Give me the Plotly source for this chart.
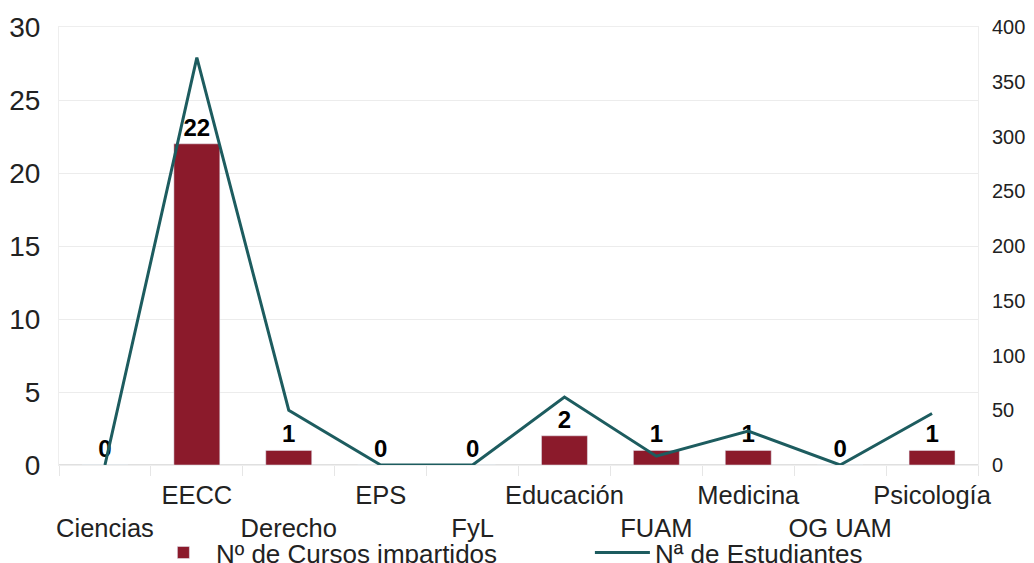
import plotly.graph_objects as go

# Datos
facultades = ["Ciencias", "EECC", "Derecho", "EPS", "FyL",
              "Educación", "FUAM", "Medicina", "OG UAM", "Psicología"]
cursos = [0, 22, 1, 0, 0, 2, 1, 1, 0, 1]
estudiantes = [0, 372, 50, 0, 0, 62, 8, 31, 0, 47]

# Etiquetas escalonadas en dos filas (como en el original)
etiquetas = [("<br>" + f) if i % 2 == 0 else (f + "<br> ") for i, f in enumerate(facultades)]

fig = go.Figure()

fig.add_trace(go.Bar(
    x=facultades,
    y=cursos,
    name="Nº de Cursos impartidos",
    marker=dict(color="#8b1a2b"),
    width=0.5,
    text=cursos,
    textposition="outside",
    textfont=dict(size=24, color="black", family="Liberation Sans"),
    texttemplate="<b>%{text}</b>",
    cliponaxis=False,
))

fig.add_trace(go.Scatter(
    x=facultades,
    y=estudiantes,
    name="Nª de Estudiantes",
    mode="lines",
    line=dict(color="#1d5c5f", width=3),
    yaxis="y2",
))

fig.update_layout(
    width=1034,
    height=563,
    margin=dict(l=51, r=64, t=19, b=106, autoexpand=False),
    paper_bgcolor="white",
    plot_bgcolor="white",
    font=dict(family="Liberation Sans", size=26, color="#222222"),
    showlegend=True,
    legend=dict(
        orientation="h",
        x=0.1, y=-0.2,
        xanchor="left", yanchor="middle",
        font=dict(size=26),
        entrywidth=369,
        itemwidth=55,
        bgcolor="rgba(0,0,0,0)",
    ),
    bargap=0.5,
    xaxis=dict(
        tickmode="array",
        tickvals=facultades,
        ticktext=etiquetas,
        tickson="boundaries",
        ticks="outside",
        ticklen=10,
        tickcolor="#e6e6e6",
        ticklabelstandoff=7,
        showgrid=False,
        showline=True,
        linecolor="#eeeeee",
        mirror=True,
        tickfont=dict(size=25.5),
        tickangle=0,
        automargin=False,
    ),
    yaxis=dict(
        range=[0, 30],
        dtick=5,
        showgrid=True,
        gridcolor="#ececec",
        zeroline=True,
        zerolinecolor="#e0e0e0",
        showline=True,
        linecolor="#eeeeee",
        tickfont=dict(size=28),
        ticks="",
        ticklabelstandoff=12,
        automargin=False,
    ),
    yaxis2=dict(
        range=[0, 400],
        dtick=50,
        overlaying="y",
        side="right",
        showgrid=False,
        zeroline=False,
        showline=True,
        linecolor="#eeeeee",
        tickfont=dict(size=20),
        ticklabelstandoff=9,
        automargin=False,
    ),
)

fig.write_html("out.html")
